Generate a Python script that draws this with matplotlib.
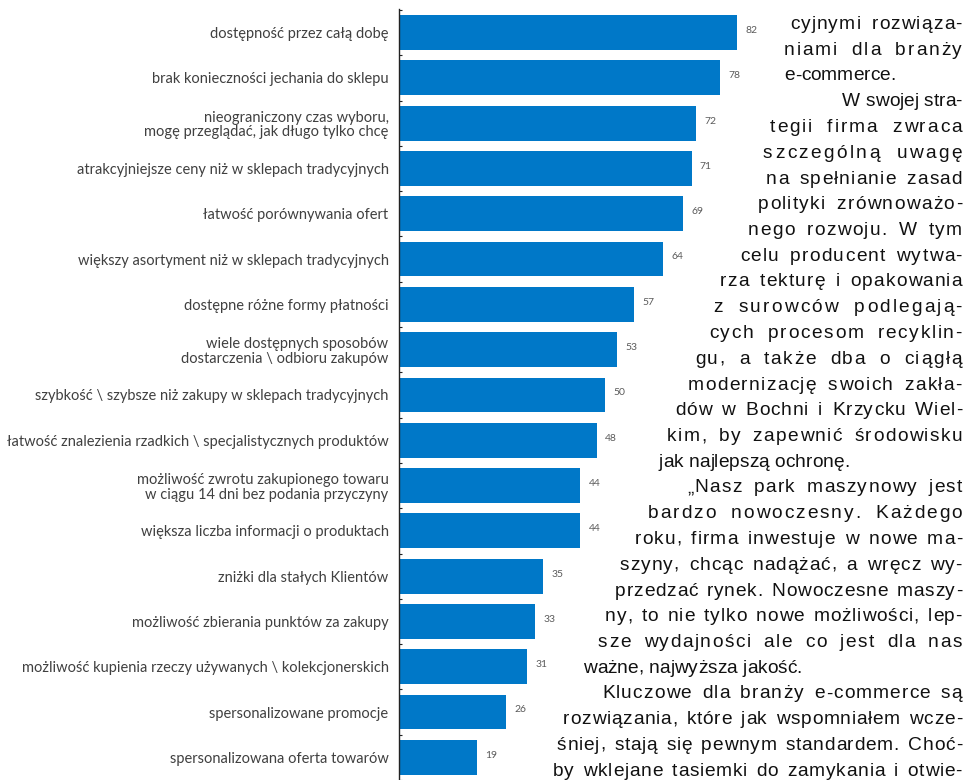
import matplotlib
matplotlib.use('Agg')
import matplotlib.pyplot as plt
import numpy as np

W, H = 965, 780

categories = [
    'dostępność przez całą dobę',
    'brak konieczności jechania do sklepu',
    'nieograniczony czas wyboru,\nmogę przeglądać, jak długo tylko chcę',
    'atrakcyjniejsze ceny niż w sklepach tradycyjnych',
    'łatwość porównywania ofert',
    'większy asortyment niż w sklepach tradycyjnych',
    'dostępne różne formy płatności',
    'wiele dostępnych sposobów\ndostarczenia \\ odbioru zakupów',
    'szybkość \\ szybsze niż zakupy w sklepach tradycyjnych',
    'łatwość znalezienia rzadkich \\ specjalistycznych produktów',
    'możliwość zwrotu zakupionego towaru\nw ciągu 14 dni bez podania przyczyny',
    'większa liczba informacji o produktach',
    'zniżki dla stałych Klientów',
    'możliwość zbierania punktów za zakupy',
    'możliwość kupienia rzeczy używanych \\ kolekcjonerskich',
    'spersonalizowane promocje',
    'spersonalizowana oferta towarów',
]
values = [82, 78, 72, 71, 69, 64, 57, 53, 50, 48, 44, 44, 35, 33, 31, 26, 19]

# column of article text next to the chart (one entry per printed line)
body_lines = [
    'cyjnymi rozwiąza-',
    'niami dla branży',
    'e-commerce.',
    'W swojej stra-',
    'tegii firma zwraca',
    'szczególną uwagę',
    'na spełnianie zasad',
    'polityki zrównoważo-',
    'nego rozwoju. W tym',
    'celu producent wytwa-',
    'rza tekturę i opakowania',
    'z surowców podlegają-',
    'cych procesom recyklin-',
    'gu, a także dba o ciągłą',
    'modernizację swoich zakła-',
    'dów w Bochni i Krzycku Wiel-',
    'kim, by zapewnić środowisku',
    'jak najlepszą ochronę.',
    '„Nasz park maszynowy jest',
    'bardzo nowoczesny. Każdego',
    'roku, firma inwestuje w nowe ma-',
    'szyny, chcąc nadążać, a wręcz wy-',
    'przedzać rynek. Nowoczesne maszy-',
    'ny, to nie tylko nowe możliwości, lep-',
    'sze wydajności ale co jest dla nas',
    'ważne, najwyższa jakość.',
    'Kluczowe dla branży e-commerce są',
    'rozwiązania, które jak wspomniałem wcze-',
    'śniej, stają się pewnym standardem. Choć-',
    'by wklejane tasiemki do zamykania i otwie-',
]
# layout of the text column (pixels)
line_left = [790, 784, 784, 850, 770, 763, 766, 758, 748, 740,
             720, 713, 709, 695, 688, 675, 667, 659, 687, 648,
             635, 620, 615, 605, 598, 583, 602, 563, 557, 553]
line_end = {2, 17, 25}   # last lines of paragraphs, not justified
right_edge = 962

BLUE = '#0078c8'
LABEL_FONT = ['Lato', 'DejaVu Sans']
BODY_FONT = ['Liberation Sans', 'DejaVu Sans']
BODY_FS = 13.8

fig = plt.figure(figsize=(W / 100, H / 100), dpi=100)
fig.patch.set_facecolor('white')

ax = fig.add_axes([399 / W, 0, 412 / W, 771 / H])
y = np.arange(len(values))
ax.barh(y, values, height=0.77, color=BLUE, zorder=2)
ax.set_xlim(0, 100)
ax.set_ylim(16.42, -0.52)

for s in ['top', 'right', 'bottom']:
    ax.spines[s].set_visible(False)
ax.spines['left'].set_color('#222222')
ax.spines['left'].set_linewidth(1.0)
ax.set_xticks([])
ax.set_yticks(y)
ax.set_yticklabels(categories, fontsize=10.5, color='#404040', family=LABEL_FONT,
                   linespacing=1.05)
ax.tick_params(axis='y', which='major', length=0, pad=7.5)
ax.set_yticks(np.arange(-0.5, len(values), 1), minor=True)
ax.tick_params(axis='y', which='minor', direction='in', length=2.5, width=0.8,
               color='#222222')

for yi, v in zip(y, values):
    ax.annotate(str(v), (v, yi), xytext=(6, 1.5), textcoords='offset points',
                ha='left', va='center', fontsize=7.5, color='#5a5a5a',
                family=LABEL_FONT)

# justified article text, placed character by character
r = fig.canvas.get_renderer()
_adv = {}


def tw(s):
    t = fig.text(0, 0, s, fontsize=BODY_FS, family=BODY_FONT)
    w = t.get_window_extent(r).width
    t.remove()
    return w


_base = tw('||')


def adv(c):
    if c not in _adv:
        _adv[c] = tw('|' + c + '|') - _base
    return _adv[c]


for i, (line, xl) in enumerate(zip(body_lines, line_left)):
    base_y = 29 + i * 25.75
    adv_list = [adv(c) for c in line]
    natural = sum(adv_list)
    weights = [4.0 if c == ' ' else 1.0 for c in line[:-1]]
    if i in line_end:
        e = 0.0
    else:
        e = (right_edge - xl - natural) / sum(weights)
        if e < 0:
            # too long for the measured column: keep spacing, align right
            e = 0.0
            xl = right_edge - natural
    x = xl
    for k, c in enumerate(line):
        if c != ' ':
            fig.text(x / W, 1 - base_y / H, c, fontsize=BODY_FS, family=BODY_FONT,
                     color='#111111', ha='left', va='baseline')
        x += adv_list[k]
        if k < len(weights):
            x += weights[k] * e

fig.savefig('out.png', dpi=100, facecolor='white')
